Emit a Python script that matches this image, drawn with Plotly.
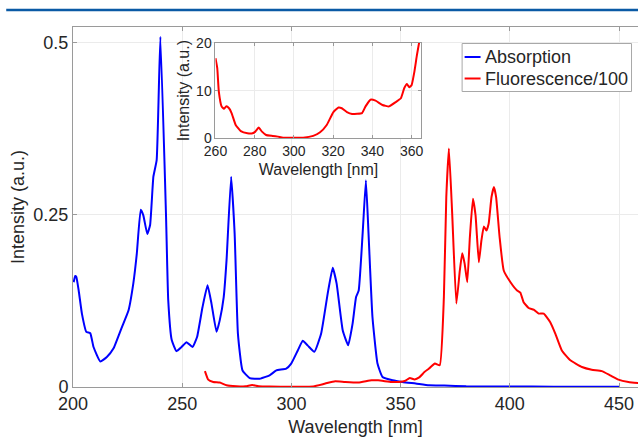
import plotly.graph_objects as go

# Absorption spectrum (nm, a.u.)
abs_nm = [200.3, 201.0, 201.5, 202.6, 204.1, 206.1, 207.9, 209.4, 212.5, 215.5,
          218.5, 222.4, 225.4, 227.6, 229.2, 231.0, 232.2, 234.0, 235.3, 236.8,
          238.3, 240.0, 242.6, 243.6, 245.2, 247.4, 249.7, 252.0, 254.7, 256.8,
          259.3, 261.6, 263.4, 265.7, 267.2, 269.0, 270.3, 272.4, 274.0, 275.5,
          277.6, 280.9, 285.5, 290.0, 293.1, 297.6, 299.9, 302.9, 305.2, 307.5,
          310.5, 313.6, 316.6, 318.9, 320.7, 323.5, 326.0, 328.0, 329.6, 330.8,
          332.6, 334.1, 335.3, 337.1, 339.4, 341.7, 346.3, 350.8, 356.9, 363.0,
          370.0, 380.0, 400.0, 420.0, 450.0]
abs_val = [0.152, 0.161, 0.160, 0.140, 0.106, 0.080, 0.078, 0.058, 0.037, 0.0435,
           0.0557, 0.087, 0.111, 0.150, 0.193, 0.257, 0.249, 0.222, 0.235, 0.305,
           0.329, 0.508, 0.247, 0.126, 0.068, 0.052, 0.058, 0.065, 0.058, 0.0725,
           0.116, 0.1475, 0.121, 0.080, 0.097, 0.1305, 0.184, 0.305, 0.2225, 0.0775,
           0.024, 0.013, 0.012, 0.017, 0.024, 0.0267, 0.034, 0.053, 0.067, 0.060,
           0.051, 0.0775, 0.1355, 0.173, 0.150, 0.082, 0.0605, 0.092, 0.1305, 0.140,
           0.2225, 0.300, 0.2225, 0.1015, 0.034, 0.0145, 0.0097, 0.0073, 0.005, 0.0025,
           0.002, 0.001, 0.0008, 0.0005, 0.0005]

# Fluorescence spectrum divided by 100
fl_nm = [260.4, 261.9, 264.2, 267.2, 270.3, 274.8, 279.0, 282.0, 285.0, 290.0,
         300.0, 310.0, 315.5, 320.0, 324.5, 330.6, 336.7, 339.7, 345.8, 349.3,
         351.9, 354.2, 356.4, 358.5, 361.0, 363.0, 365.7, 367.9, 369.8, 370.9,
         372.1, 373.6, 375.5, 377.1, 378.2, 379.3, 380.5, 381.7, 383.1, 384.3,
         385.8, 387.0, 388.1, 389.3, 390.3, 391.6, 392.7, 393.7, 395.3, 397.2,
         400.3, 403.3, 404.8, 406.3, 408.6, 410.9, 413.2, 415.5, 418.5, 420.8,
         423.8, 427.7, 433.0, 437.5, 442.1, 445.9, 449.7, 454.3, 458.8]
fl_val = [0.023, 0.0107, 0.0073, 0.0064, 0.0025, 0.0012, 0.001, 0.003, 0.0012, 0.0006,
          0.0003, 0.0008, 0.005, 0.0083, 0.0073, 0.0064, 0.0097, 0.0097, 0.0073, 0.0073,
          0.0087, 0.013, 0.011, 0.014, 0.022, 0.0267, 0.034, 0.0315, 0.1305, 0.2756,
          0.346, 0.2515, 0.121, 0.169, 0.194, 0.179, 0.152, 0.2176, 0.273, 0.249,
          0.181, 0.213, 0.233, 0.227, 0.237, 0.2756, 0.290, 0.2756, 0.2176, 0.169,
          0.152, 0.140, 0.137, 0.123, 0.1146, 0.1122, 0.1065, 0.1065, 0.094, 0.0775,
          0.053, 0.0387, 0.029, 0.025, 0.023, 0.017, 0.0107, 0.0073, 0.0058]

# Fluorescence detail, 260-365 nm
ins_nm = [260.0, 260.9, 261.7, 263.1, 264.3, 265.5, 266.9, 268.2, 270.3, 272.9,
          276.3, 278.9, 280.3, 282.0, 283.7, 285.8, 289.2, 291.8, 294.4, 299.5,
          304.7, 309.8, 313.3, 316.7, 320.1, 322.7, 324.4, 327.0, 329.6, 334.7,
          336.5, 339.0, 341.6, 345.1, 348.5, 351.9, 354.5, 356.2, 357.6, 358.8,
          360.0, 361.4, 362.7, 363.9]
ins_val = [16.8, 14.7, 9.8, 6.7, 6.2, 6.7, 6.3, 5.3, 2.8, 1.5,
           1.05, 1.05, 1.4, 2.25, 1.4, 0.7, 0.5, 0.35, 0.14, 0.14,
           0.14, 0.5, 1.26, 2.8, 5.5, 6.45, 6.3, 5.5, 5.1, 5.3,
           6.7, 8.1, 7.9, 7.0, 6.7, 7.6, 8.4, 10.5, 11.4, 10.7,
           11.2, 14.0, 17.5, 20.3]

x_ticks = [200, 250, 300, 350, 400, 450]
y_ticks = [0, 0.25, 0.5]
y_tick_text = ["0", "0.25", "0.5"]
ins_x_ticks = [260, 280, 300, 320, 340, 360]
ins_y_ticks = [0, 10, 20]
legend_names = ["Absorption", "Fluorescence/100"]

BLUE = "#0000ff"
RED = "#ff0000"
TXT = "#262626"
GRID = "#ebebeb"
AXIS = "#9a9a9a"
FONT = "Liberation Sans, Arial, sans-serif"

W, H = 640, 440
ML, MR, MT, MB = 73, 0, 27, 53
PW, PH = W - ML - MR, H - MT - MB


def fx(p):
    return (p - ML) / PW


def fy(p):
    return (H - MB - p) / PH


fig = go.Figure()
fig.add_trace(go.Scatter(x=abs_nm, y=abs_val, mode="lines", name=legend_names[0],
                         line=dict(color=BLUE, width=2, shape="spline", smoothing=0.4),
                         showlegend=False))
fig.add_trace(go.Scatter(x=fl_nm, y=fl_val, mode="lines", name=legend_names[1],
                         line=dict(color=RED, width=2, shape="spline", smoothing=0.4),
                         showlegend=False))
fig.add_trace(go.Scatter(x=ins_nm, y=ins_val, mode="lines", xaxis="x2", yaxis="y2",
                         line=dict(color=RED, width=2, shape="spline", smoothing=0.4),
                         showlegend=False, cliponaxis=True))

axis_common = dict(showgrid=True, gridcolor=GRID, gridwidth=1, zeroline=False,
                   showline=True, linecolor=AXIS, linewidth=1,
                   ticks="inside", tickcolor=AXIS, ticklen=4,
                   tickfont=dict(family=FONT, size=18, color=TXT))

fig.update_layout(
    width=W, height=H,
    margin=dict(l=ML, r=MR, t=MT, b=MB),
    paper_bgcolor="white", plot_bgcolor="white",
    xaxis=dict(range=[200, 200 + PW / 2.192], tickvals=x_ticks, mirror="ticks",
               title=dict(text="Wavelength [nm]", standoff=7,
                          font=dict(family=FONT, size=18, color=TXT)),
               **axis_common),
    yaxis=dict(range=[0, PH / 689.4], tickvals=y_ticks, ticktext=y_tick_text,
               mirror=False,
               title=dict(text="Intensity (a.u.)", standoff=4,
                          font=dict(family=FONT, size=18, color=TXT)),
               **axis_common),
    xaxis2=dict(domain=[fx(216), fx(422.7)], anchor="y2", range=[260, 365],
                tickvals=ins_x_ticks, mirror="ticks", showgrid=True, gridcolor=GRID,
                zeroline=False, showline=True, linecolor=AXIS, linewidth=1,
                ticks="inside", tickcolor=AXIS, ticklen=3,
                tickfont=dict(family=FONT, size=14, color=TXT),
                title=dict(text="Wavelength [nm]", standoff=5,
                           font=dict(family=FONT, size=16, color=TXT))),
    yaxis2=dict(domain=[fy(138.3), fy(43)], anchor="x2", range=[0, 20],
                tickvals=ins_y_ticks, mirror="ticks", showgrid=True, gridcolor=GRID,
                zeroline=False, showline=True, linecolor=AXIS, linewidth=1,
                ticks="inside", tickcolor=AXIS, ticklen=3,
                tickfont=dict(family=FONT, size=14, color=TXT),
                title=dict(text="Intensity (a.u.)", standoff=2,
                           font=dict(family=FONT, size=16, color=TXT))),
)

shapes = [
    # white backdrop for the inset axes
    dict(type="rect", xref="x2 domain", yref="y2 domain", x0=0, x1=1, y0=0, y1=1,
         fillcolor="white", line=dict(width=0), layer="below"),
    # header rule
    dict(type="line", xref="paper", yref="paper", x0=fx(6), x1=fx(640),
         y0=fy(10), y1=fy(10), line=dict(color="#0a5aa5", width=2.5)),
    # legend box
    dict(type="rect", xref="paper", yref="paper", x0=fx(463.5), x1=fx(633.5),
         y0=fy(91.5), y1=fy(43.5), fillcolor="white",
         line=dict(color="#a8a8a8", width=1)),
]
annotations = []
for i, (name, col) in enumerate(zip(legend_names, [BLUE, RED])):
    ly = 57 + i * 21.5
    shapes.append(dict(type="line", xref="paper", yref="paper", x0=fx(466), x1=fx(482),
                       y0=fy(ly), y1=fy(ly), line=dict(color=col, width=2)))
    annotations.append(dict(xref="paper", yref="paper", x=fx(484), y=fy(ly),
                            xanchor="left", yanchor="middle", showarrow=False,
                            text=name, font=dict(family=FONT, size=18, color=TXT)))
fig.update_layout(shapes=shapes, annotations=annotations)

fig.write_html("out.html")
